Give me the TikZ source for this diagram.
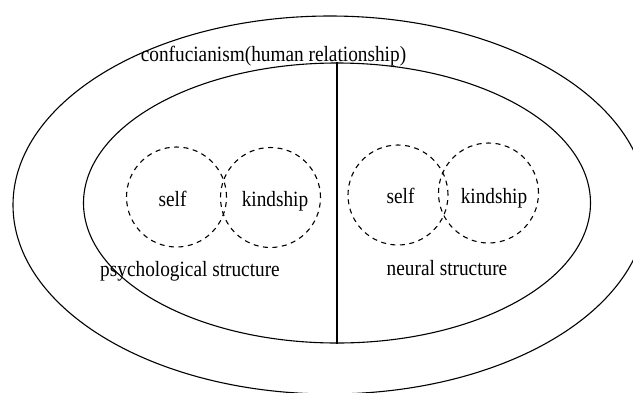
\documentclass[tikz,border=0pt]{standalone}
\usepackage{fontspec}
\setmainfont{Liberation Serif}
\usetikzlibrary{shapes.geometric}
\newcommand{\talltext}[1]{\scalebox{1}[1.13]{#1}}
\begin{document}
\begin{tikzpicture}[x=1pt,y=-1pt,
  ring/.style={draw,ellipse,line width=1.1pt,inner sep=0pt},
  venn/.style={draw,circle,dash pattern=on 5pt off 4.5pt,line width=1.1pt,minimum size=100pt,inner sep=0pt},
  lbl/.style={font=\fontsize{19.3}{22}\selectfont,inner sep=0pt,anchor=base}]
\useasboundingbox (0,0) rectangle (633,392);
\node[ring,minimum width=634pt,minimum height=378pt] (outer) at (330,205) {};
\node[ring,minimum width=507pt,minimum height=280pt] (inner) at (337,203) {};
\draw[line width=1.1pt] (inner.north) -- (inner.south);
\node[lbl] (conf) at (273.5,61) {\talltext{confucianism(human relationship)}};
\node[venn] (c1) at (176.5,197) {};
\node[venn] (c2) at (270.5,197.5) {};
\node[venn] (c3) at (398,195) {};
\node[venn] (c4) at (488.5,193) {};
\node[lbl] (s1) at (172.5,206) {\talltext{self}};
\node[lbl] (k1) at (275,206) {\talltext{kindship}};
\node[lbl] (s2) at (400.5,203) {\talltext{self}};
\node[lbl] (k2) at (494,203) {\talltext{kindship}};
\node[lbl] (psy) at (190,276) {\talltext{psychological structure}};
\node[lbl] (neu) at (447,275) {\talltext{neural structure}};
\end{tikzpicture}
\end{document}
